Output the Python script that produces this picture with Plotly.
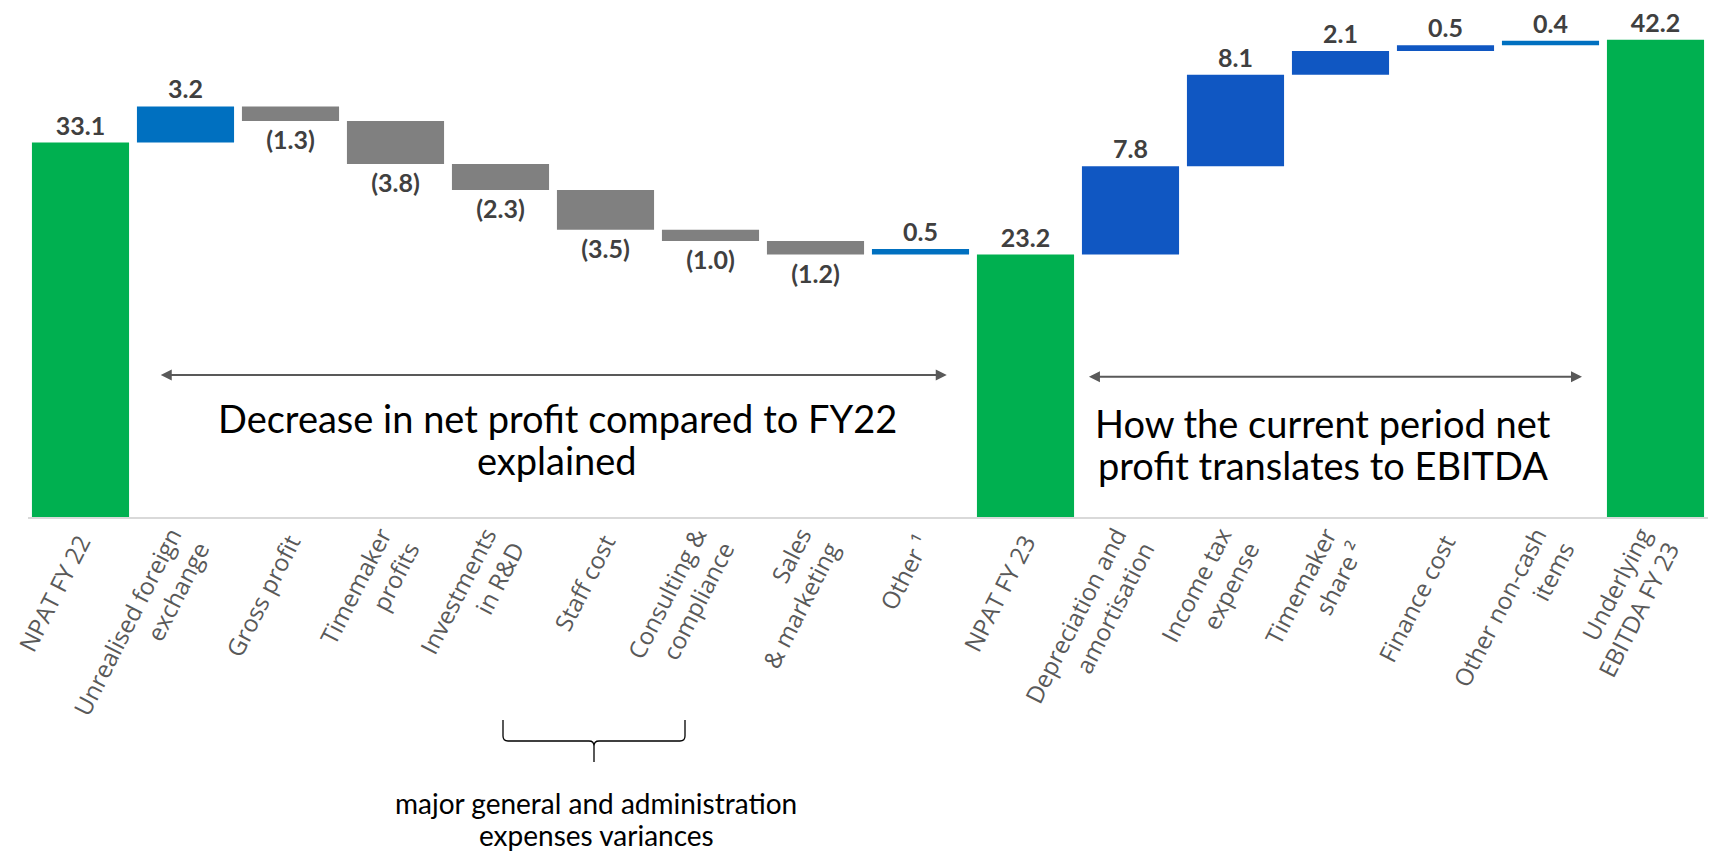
import plotly.graph_objects as go

# categorias del eje x (saltos de linea como en el original)
categories = [
    "NPAT FY 22",
    "Unrealised foreign<br>exchange",
    "Gross profit",
    "Timemaker<br>profits",
    "Investments<br>in R&D",
    "Staff cost",
    "Consulting &<br>compliance",
    "Sales<br>& marketing",
    "Other ¹",
    "NPAT FY 23",
    "Depreciation and<br>amortisation",
    "Income tax<br>expense",
    "Timemaker<br>share ²",
    "Finance cost",
    "Other non-cash<br>items",
    "Underlying<br>EBITDA FY 23",
]

# valores (totales absolutos o variaciones)
values = [33.1, 3.2, -1.3, -3.8, -2.3, -3.5, -1.0, -1.2, 0.5,
          23.2, 7.8, 8.1, 2.1, 0.5, 0.4, 42.2]

# tipo de barra: total, variacion azul clara, variacion azul, variacion gris
kinds = ["total", "light", "grey", "grey", "grey", "grey", "grey", "grey", "light",
         "total", "blue", "blue", "blue", "blue", "light", "total"]

palette = {"total": "#00B050", "light": "#0070C0", "blue": "#1057C2", "grey": "#808080"}

# calculamos base y altura de cada barra flotante
bases, heights, texts = [], [], []
running = 0.0
for v, k in zip(values, kinds):
    if k == "total":
        bases.append(0)
        heights.append(v)
        running = v
    else:
        bases.append(running)
        heights.append(v)
        running += v
    texts.append(f"({abs(v):.1f})" if v < 0 else f"{v:.1f}")

fig = go.Figure()

fig.add_trace(
    go.Bar(
        x=categories,
        y=heights,
        base=bases,
        marker=dict(color=[palette[k] for k in kinds], line=dict(width=0)),
        text=texts,
        textposition="outside",
        textfont=dict(family="Lato", size=25, color="#404040", weight="bold"),
        cliponaxis=False,
        showlegend=False,
    )
)

# flechas dobles
arrow_style = dict(
    text="", showarrow=True, arrowside="end+start", arrowhead=2,
    arrowsize=1.1, arrowwidth=2, arrowcolor="#595959",
    xref="x", yref="y", axref="x", ayref="y", standoff=0, startstandoff=0,
)
fig.add_annotation(x=8.25, y=12.55, ax=0.75, ay=12.55, **arrow_style)
fig.add_annotation(x=14.3, y=12.4, ax=9.59, ay=12.4, **arrow_style)

# textos explicativos, una linea por anotacion
big_font = dict(family="Lato", size=38, color="#000000")
big_lines = [
    ("Decrease in net profit compared to FY22", 4.54, 8.75),
    ("explained", 4.54, 5.04),
    ("How the current period net", 11.83, 8.27),
    ("profit translates to EBITDA", 11.83, 4.6),
]
for txt, xc, yc in big_lines:
    fig.add_annotation(x=xc, y=yc, xref="x", yref="y", showarrow=False,
                       text=txt, font=big_font, xanchor="center", yanchor="middle")

# coordenadas de pagina -> papel (la pagina tiene 8 px de margen)
def px(xp):
    return (xp - 28) / 1680
def py(yp):
    return (517 - yp) / 509

# llave bajo los gastos generales
px_l, px_r, px_c = 503, 685, 594
path = (
    f"M {px(px_l)},{py(720)} L {px(px_l)},{py(736)} "
    f"Q {px(px_l)},{py(741)} {px(px_l + 5)},{py(741)} "
    f"L {px(px_c - 5)},{py(741)} Q {px(px_c)},{py(741)} {px(px_c)},{py(746)} "
    f"L {px(px_c)},{py(762)} M {px(px_c)},{py(746)} "
    f"Q {px(px_c)},{py(741)} {px(px_c + 5)},{py(741)} "
    f"L {px(px_r - 5)},{py(741)} Q {px(px_r)},{py(741)} {px(px_r)},{py(736)} "
    f"L {px(px_r)},{py(720)}"
)
fig.add_shape(type="path", path=path, xref="paper", yref="paper",
              line=dict(color="#000000", width=1.3))

small_font = dict(family="Lato", size=28, color="#000000")
for txt, yp in [("major general and administration", 803), ("expenses variances", 835)]:
    fig.add_annotation(x=px(596), y=py(yp), xref="paper", yref="paper",
                       xanchor="center", yanchor="middle",
                       showarrow=False, text=txt, font=small_font)

fig.update_layout(
    width=1708,
    height=850,
    margin=dict(l=20, r=8, t=0, b=341),
    plot_bgcolor="white",
    paper_bgcolor="white",
    bargap=0.075,
    xaxis=dict(
        tickangle=-63,
        tickfont=dict(family="Open Sans", size=24, color="#595959"),
        showline=True,
        linecolor="#D9D9D9",
        linewidth=1.5,
        ticks="",
        showgrid=False,
        automargin=False,
        range=[-0.5, 15.5],
    ),
    yaxis=dict(visible=False, range=[0, 45], showgrid=False, automargin=False),
)

fig.write_html("out.html")
